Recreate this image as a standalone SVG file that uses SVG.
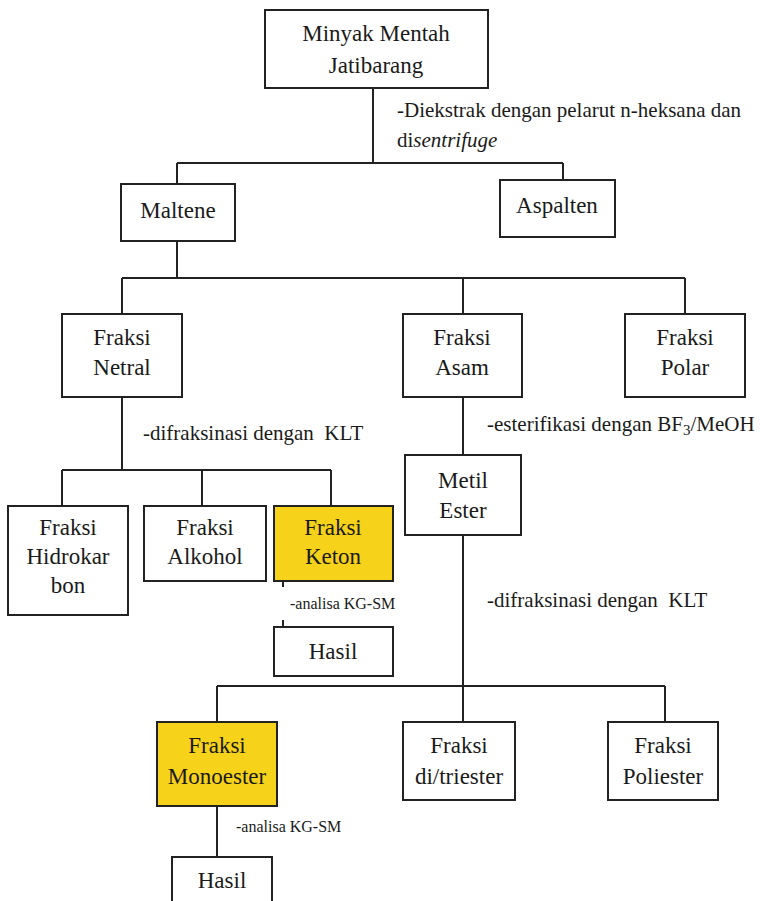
<svg xmlns="http://www.w3.org/2000/svg" width="765" height="901" viewBox="0 0 765 901">
<rect width="765" height="901" fill="#fff"/>
<g id="connectors" fill="none" stroke="#222" stroke-width="2">
<path d="M373 88V163M177 163H563M177 163V184M563 163V180"/>
<path d="M177 241V278M122 278H685M122 278V314M463 278V314M685 278V314"/>
<path d="M122 397V470M62 470H331M62 470V506M202 470V506M331 470V506"/>
<path d="M283 581V587M283 620V627"/>
<path d="M463 397V455M463 535V686M217 686H665M217 686V722M463 686V722M665 686V722"/>
<path d="M217 806V857"/>
</g>
<g id="labels" fill="#1a1a1a">
<text font-family="Liberation Serif" font-size="21" x="397" y="117">-Diekstrak dengan pelarut n-heksana dan</text>
<text font-family="Liberation Serif" font-size="21" x="397" y="147">di<tspan font-family="Liberation Serif" font-style="italic">sentrifuge</tspan></text>
<text font-family="Liberation Serif" font-size="21" x="143" y="440" xml:space="preserve">-difraksinasi dengan  KLT</text>
<text font-family="Liberation Serif" font-size="21" x="487" y="431">-esterifikasi dengan BF<tspan font-size="15" dy="4">3</tspan><tspan dy="-4">/MeOH</tspan></text>
<text font-family="Liberation Serif" font-size="16" x="290" y="609">-analisa KG-SM</text>
<text font-family="Liberation Serif" font-size="21" x="487" y="607" xml:space="preserve">-difraksinasi dengan  KLT</text>
<text font-family="Liberation Serif" font-size="16" x="236" y="832">-analisa KG-SM</text>
</g>
<g id="minyak"><rect x="265" y="10" width="223" height="78" fill="#fff" stroke="#222" stroke-width="2"/><text font-family="Liberation Serif" font-size="23" text-anchor="middle" fill="#1a1a1a" x="376" y="41">Minyak Mentah</text><text font-family="Liberation Serif" font-size="23" text-anchor="middle" fill="#1a1a1a" x="376" y="73">Jatibarang</text></g>
<g id="maltene"><rect x="121" y="184" width="114" height="57" fill="#fff" stroke="#222" stroke-width="2"/><text font-family="Liberation Serif" font-size="23" text-anchor="middle" fill="#1a1a1a" x="178" y="218">Maltene</text></g>
<g id="aspalten"><rect x="500" y="180" width="115" height="57" fill="#fff" stroke="#222" stroke-width="2"/><text font-family="Liberation Serif" font-size="23" text-anchor="middle" fill="#1a1a1a" x="557" y="213">Aspalten</text></g>
<g id="netral"><rect x="62" y="314" width="120" height="83" fill="#fff" stroke="#222" stroke-width="2"/><text font-family="Liberation Serif" font-size="23" text-anchor="middle" fill="#1a1a1a" x="122" y="345">Fraksi</text><text font-family="Liberation Serif" font-size="23" text-anchor="middle" fill="#1a1a1a" x="122" y="375">Netral</text></g>
<g id="asam"><rect x="403" y="314" width="119" height="83" fill="#fff" stroke="#222" stroke-width="2"/><text font-family="Liberation Serif" font-size="23" text-anchor="middle" fill="#1a1a1a" x="462" y="345">Fraksi</text><text font-family="Liberation Serif" font-size="23" text-anchor="middle" fill="#1a1a1a" x="462" y="375">Asam</text></g>
<g id="polar"><rect x="625" y="314" width="120" height="83" fill="#fff" stroke="#222" stroke-width="2"/><text font-family="Liberation Serif" font-size="23" text-anchor="middle" fill="#1a1a1a" x="685" y="345">Fraksi</text><text font-family="Liberation Serif" font-size="23" text-anchor="middle" fill="#1a1a1a" x="685" y="375">Polar</text></g>
<g id="hidrokarbon"><rect x="8" y="506" width="120" height="109" fill="#fff" stroke="#222" stroke-width="2"/><text font-family="Liberation Serif" font-size="23" text-anchor="middle" fill="#1a1a1a" x="68" y="535">Fraksi</text><text font-family="Liberation Serif" font-size="23" text-anchor="middle" fill="#1a1a1a" x="68" y="564">Hidrokar</text><text font-family="Liberation Serif" font-size="23" text-anchor="middle" fill="#1a1a1a" x="68" y="593">bon</text></g>
<g id="alkohol"><rect x="144" y="506" width="122" height="75" fill="#fff" stroke="#222" stroke-width="2"/><text font-family="Liberation Serif" font-size="23" text-anchor="middle" fill="#1a1a1a" x="205" y="535">Fraksi</text><text font-family="Liberation Serif" font-size="23" text-anchor="middle" fill="#1a1a1a" x="205" y="564">Alkohol</text></g>
<g id="keton"><rect x="274" y="506" width="119" height="75" fill="#f7d21a" stroke="#222" stroke-width="2"/><text font-family="Liberation Serif" font-size="23" text-anchor="middle" fill="#1a1a1a" x="333" y="535">Fraksi</text><text font-family="Liberation Serif" font-size="23" text-anchor="middle" fill="#1a1a1a" x="333" y="564">Keton</text></g>
<g id="hasil1"><rect x="274" y="627" width="119" height="49" fill="#fff" stroke="#222" stroke-width="2"/><text font-family="Liberation Serif" font-size="23" text-anchor="middle" fill="#1a1a1a" x="333" y="659">Hasil</text></g>
<g id="metilester"><rect x="405" y="455" width="116" height="80" fill="#fff" stroke="#222" stroke-width="2"/><text font-family="Liberation Serif" font-size="23" text-anchor="middle" fill="#1a1a1a" x="463" y="488">Metil</text><text font-family="Liberation Serif" font-size="23" text-anchor="middle" fill="#1a1a1a" x="463" y="518">Ester</text></g>
<g id="monoester"><rect x="157" y="722" width="120" height="84" fill="#f7d21a" stroke="#222" stroke-width="2"/><text font-family="Liberation Serif" font-size="23" text-anchor="middle" fill="#1a1a1a" x="217" y="753">Fraksi</text><text font-family="Liberation Serif" font-size="23" text-anchor="middle" fill="#1a1a1a" x="217" y="784">Monoester</text></g>
<g id="ditriester"><rect x="403" y="722" width="112" height="78" fill="#fff" stroke="#222" stroke-width="2"/><text font-family="Liberation Serif" font-size="23" text-anchor="middle" fill="#1a1a1a" x="459" y="753">Fraksi</text><text font-family="Liberation Serif" font-size="23" text-anchor="middle" fill="#1a1a1a" x="459" y="784">di/triester</text></g>
<g id="poliester"><rect x="608" y="722" width="110" height="78" fill="#fff" stroke="#222" stroke-width="2"/><text font-family="Liberation Serif" font-size="23" text-anchor="middle" fill="#1a1a1a" x="663" y="753">Fraksi</text><text font-family="Liberation Serif" font-size="23" text-anchor="middle" fill="#1a1a1a" x="663" y="784">Poliester</text></g>
<g id="hasil2"><rect x="172" y="857" width="100" height="60" fill="#fff" stroke="#222" stroke-width="2"/><text font-family="Liberation Serif" font-size="23" text-anchor="middle" fill="#1a1a1a" x="222" y="888">Hasil</text></g>
</svg>
